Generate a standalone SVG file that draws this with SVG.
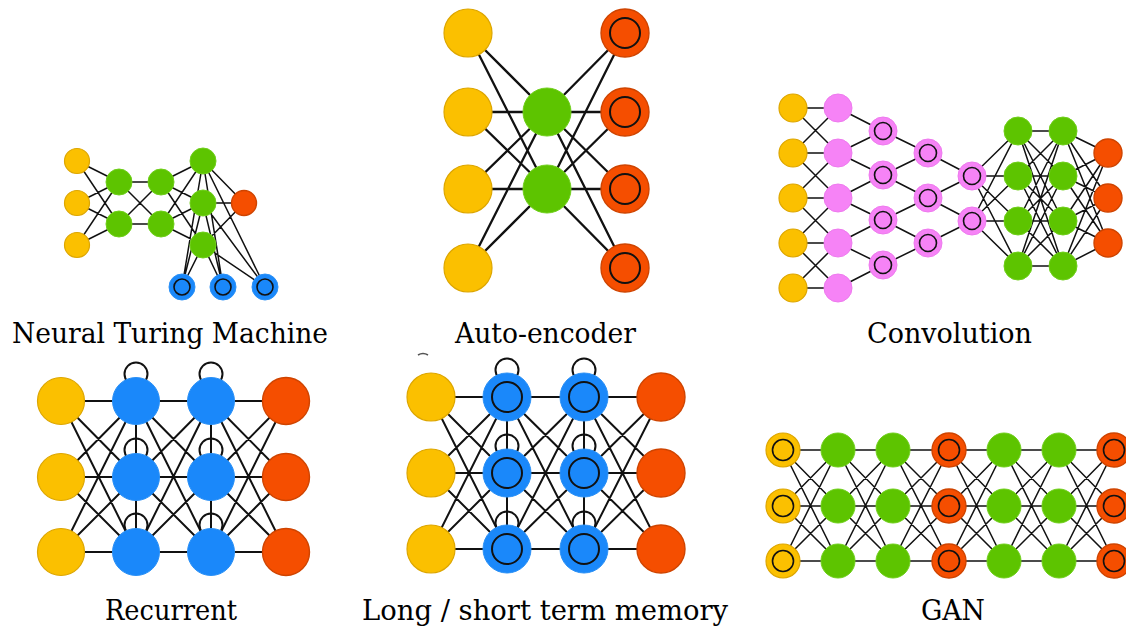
<svg xmlns="http://www.w3.org/2000/svg" width="1126" height="627" viewBox="0 0 1126 627">
<style>
.e{fill:none;stroke:#111;stroke-linecap:round}
.thin{stroke-width:1.5}
.mid{stroke-width:2}
.thick{stroke-width:2.3}
.y{fill:#FBC000;stroke:#DDA600;stroke-width:1.2}
.g{fill:#5DC400;stroke:#6FCF1A;stroke-width:1}
.o{fill:#F54E00;stroke:#CF4400;stroke-width:1.4}
.p{fill:#F683F6;stroke:#EE7AEE;stroke-width:1}
.b{fill:#1A88FA;stroke:#2A90F6;stroke-width:1}
.ring{fill:none;stroke:#111;stroke-width:1.6}
.ringT{fill:none;stroke:#111;stroke-width:2}
.loop{fill:none;stroke:#111;stroke-width:2}
text{font-family:"DejaVu Serif","Liberation Serif",serif;font-stretch:condensed;font-size:28px;fill:#000;text-anchor:middle}
</style>
<rect width="1126" height="627" fill="#fff"/>

<g id="connectors">
<!-- NTM -->
<path class="e thin" d="M77 161L119 182M77 161L119 224M77 203L119 182M77 203L119 224M77 245L119 182M77 245L119 224
M119 182L161 182M119 182L161 224M119 224L161 182M119 224L161 224
M161 182L203 161M161 182L203 203M161 182L203 245M161 224L203 161M161 224L203 203M161 224L203 245
M203 161L244 203M203 203L244 203M203 245L244 203
M203 161L182 287M203 161L223 287M203 161L265 287M203 203L182 287M203 203L223 287M203 203L265 287M203 245L182 287M203 245L223 287M203 245L265 287"/>
<!-- Auto-encoder -->
<path class="e thick" d="M468 33L547 112M468 33L547 189M468 112L547 112M468 112L547 189M468 189L547 112M468 189L547 189M468 268L547 112M468 268L547 189
M547 112L625 33M547 112L625 112M547 112L625 189M547 112L625 268M547 189L625 33M547 189L625 112M547 189L625 189M547 189L625 268"/>
<!-- Convolution -->
<path class="e thin" d="M793 108L838 108M793 108L838 153M793 153L838 108M793 153L838 153M793 153L838 198M793 198L838 153M793 198L838 198M793 198L838 243M793 243L838 198M793 243L838 243M793 243L838 288M793 288L838 243M793 288L838 288
M838 108L883 131M838 153L883 131M838 153L883 175M838 198L883 175M838 198L883 220M838 243L883 220M838 243L883 265M838 288L883 265
M883 131L928 153M883 175L928 153M883 175L928 198M883 220L928 198M883 220L928 243M883 265L928 243
M928 153L972 176M928 198L972 176M928 198L972 221M928 243L972 221
M972 176L1018 131M972 176L1018 176M972 176L1018 221M972 176L1018 266M972 221L1018 131M972 221L1018 176M972 221L1018 221M972 221L1018 266
M1018 131L1063 131M1018 131L1063 176M1018 131L1063 221M1018 131L1063 266M1018 176L1063 131M1018 176L1063 176M1018 176L1063 221M1018 176L1063 266M1018 221L1063 131M1018 221L1063 176M1018 221L1063 221M1018 221L1063 266M1018 266L1063 131M1018 266L1063 176M1018 266L1063 221M1018 266L1063 266
M1063 131L1108 153M1063 131L1108 198M1063 131L1108 243M1063 176L1108 153M1063 176L1108 198M1063 176L1108 243M1063 221L1108 153M1063 221L1108 198M1063 221L1108 243M1063 266L1108 153M1063 266L1108 198M1063 266L1108 243"/>
<!-- Recurrent -->
<path class="e mid" d="M61 401L136 401M61 401L136 477M61 401L136 552M61 477L136 401M61 477L136 477M61 477L136 552M61 552L136 401M61 552L136 477M61 552L136 552
M136 401L211 401M136 401L211 477M136 401L211 552M136 477L211 401M136 477L211 477M136 477L211 552M136 552L211 401M136 552L211 477M136 552L211 552
M211 401L286 401M211 401L286 477M211 401L286 552M211 477L286 401M211 477L286 477M211 477L286 552M211 552L286 401M211 552L286 477M211 552L286 552
M136 401L136 552M211 401L211 552"/>
<!-- LSTM -->
<path class="e mid" d="M431 397L507 397M431 397L507 473M431 397L507 549M431 473L507 397M431 473L507 473M431 473L507 549M431 549L507 397M431 549L507 473M431 549L507 549
M507 397L584 397M507 397L584 473M507 397L584 549M507 473L584 397M507 473L584 473M507 473L584 549M507 549L584 397M507 549L584 473M507 549L584 549
M584 397L661 397M584 397L661 473M584 397L661 549M584 473L661 397M584 473L661 473M584 473L661 549M584 549L661 397M584 549L661 473M584 549L661 549
M507 397L507 549M584 397L584 549"/>
<path d="M418 355Q423 352 428 355" fill="none" stroke="#555" stroke-width="1.6"/>
<!-- GAN -->
<path class="e thin" d="M783 450L838 450M783 450L838 506M783 450L838 561M783 506L838 450M783 506L838 506M783 506L838 561M783 561L838 450M783 561L838 506M783 561L838 561
M838 450L893 450M838 450L893 506M838 450L893 561M838 506L893 450M838 506L893 506M838 506L893 561M838 561L893 450M838 561L893 506M838 561L893 561
M893 450L949 450M893 450L949 506M893 450L949 561M893 506L949 450M893 506L949 506M893 506L949 561M893 561L949 450M893 561L949 506M893 561L949 561
M949 450L1004 450M949 450L1004 506M949 450L1004 561M949 506L1004 450M949 506L1004 506M949 506L1004 561M949 561L1004 450M949 561L1004 506M949 561L1004 561
M1004 450L1059 450M1004 450L1059 506M1004 450L1059 561M1004 506L1059 450M1004 506L1059 506M1004 506L1059 561M1004 561L1059 450M1004 561L1059 506M1004 561L1059 561
M1059 450L1114 450M1059 450L1114 506M1059 450L1114 561M1059 506L1114 450M1059 506L1114 506M1059 506L1114 561M1059 561L1114 450M1059 561L1114 506M1059 561L1114 561"/>
<!-- self loops -->
<circle class="loop" cx="136" cy="374" r="11.5"/>
<circle class="loop" cx="211" cy="374" r="11.5"/>
<circle class="loop" cx="136" cy="450" r="11.5"/>
<circle class="loop" cx="211" cy="450" r="11.5"/>
<circle class="loop" cx="136" cy="525" r="11.5"/>
<circle class="loop" cx="211" cy="525" r="11.5"/>
<circle class="loop" cx="507" cy="370" r="11.5"/>
<circle class="loop" cx="584" cy="370" r="11.5"/>
<circle class="loop" cx="507" cy="446" r="11.5"/>
<circle class="loop" cx="584" cy="446" r="11.5"/>
<circle class="loop" cx="507" cy="523" r="11.5"/>
<circle class="loop" cx="584" cy="523" r="11.5"/>
</g>

<!-- Neural Turing Machine nodes -->
<g id="ntm-in1"><circle class="y" cx="77" cy="161" r="12.5"/></g>
<g id="ntm-in2"><circle class="y" cx="77" cy="203" r="12.5"/></g>
<g id="ntm-in3"><circle class="y" cx="77" cy="245" r="12.5"/></g>
<g id="ntm-h1a"><circle class="g" cx="119" cy="182" r="13"/></g>
<g id="ntm-h1b"><circle class="g" cx="119" cy="224" r="13"/></g>
<g id="ntm-h2a"><circle class="g" cx="161" cy="182" r="13"/></g>
<g id="ntm-h2b"><circle class="g" cx="161" cy="224" r="13"/></g>
<g id="ntm-h3a"><circle class="g" cx="203" cy="161" r="13"/></g>
<g id="ntm-h3b"><circle class="g" cx="203" cy="203" r="13"/></g>
<g id="ntm-h3c"><circle class="g" cx="203" cy="245" r="13"/></g>
<g id="ntm-out"><circle class="o" cx="244" cy="203" r="12.5"/></g>
<g id="ntm-mem1"><circle class="b" cx="182" cy="287" r="13"/><circle class="ring" cx="182" cy="287" r="8"/></g>
<g id="ntm-mem2"><circle class="b" cx="223" cy="287" r="13"/><circle class="ring" cx="223" cy="287" r="8"/></g>
<g id="ntm-mem3"><circle class="b" cx="265" cy="287" r="13"/><circle class="ring" cx="265" cy="287" r="8"/></g>

<!-- Auto-encoder nodes -->
<g id="ae-in1"><circle class="y" cx="468" cy="33" r="24"/></g>
<g id="ae-in2"><circle class="y" cx="468" cy="112" r="24"/></g>
<g id="ae-in3"><circle class="y" cx="468" cy="189" r="24"/></g>
<g id="ae-in4"><circle class="y" cx="468" cy="268" r="24"/></g>
<g id="ae-h1"><circle class="g" cx="547" cy="112" r="24"/></g>
<g id="ae-h2"><circle class="g" cx="547" cy="189" r="24"/></g>
<g id="ae-out1"><circle class="o" cx="625" cy="33" r="24"/><circle class="ringT" cx="625" cy="33" r="15"/></g>
<g id="ae-out2"><circle class="o" cx="625" cy="112" r="24"/><circle class="ringT" cx="625" cy="112" r="15"/></g>
<g id="ae-out3"><circle class="o" cx="625" cy="189" r="24"/><circle class="ringT" cx="625" cy="189" r="15"/></g>
<g id="ae-out4"><circle class="o" cx="625" cy="268" r="24"/><circle class="ringT" cx="625" cy="268" r="15"/></g>

<!-- Convolution nodes -->
<g id="cv-in1"><circle class="y" cx="793" cy="108" r="14"/></g>
<g id="cv-in2"><circle class="y" cx="793" cy="153" r="14"/></g>
<g id="cv-in3"><circle class="y" cx="793" cy="198" r="14"/></g>
<g id="cv-in4"><circle class="y" cx="793" cy="243" r="14"/></g>
<g id="cv-in5"><circle class="y" cx="793" cy="288" r="14"/></g>
<g id="cv-k1"><circle class="p" cx="838" cy="108" r="14"/></g>
<g id="cv-k2"><circle class="p" cx="838" cy="153" r="14"/></g>
<g id="cv-k3"><circle class="p" cx="838" cy="198" r="14"/></g>
<g id="cv-k4"><circle class="p" cx="838" cy="243" r="14"/></g>
<g id="cv-k5"><circle class="p" cx="838" cy="288" r="14"/></g>
<g id="cv-c1a"><circle class="p" cx="883" cy="131" r="14"/><circle class="ring" cx="883" cy="131" r="8.5"/></g>
<g id="cv-c1b"><circle class="p" cx="883" cy="175" r="14"/><circle class="ring" cx="883" cy="175" r="8.5"/></g>
<g id="cv-c1c"><circle class="p" cx="883" cy="220" r="14"/><circle class="ring" cx="883" cy="220" r="8.5"/></g>
<g id="cv-c1d"><circle class="p" cx="883" cy="265" r="14"/><circle class="ring" cx="883" cy="265" r="8.5"/></g>
<g id="cv-c2a"><circle class="p" cx="928" cy="153" r="14"/><circle class="ring" cx="928" cy="153" r="8.5"/></g>
<g id="cv-c2b"><circle class="p" cx="928" cy="198" r="14"/><circle class="ring" cx="928" cy="198" r="8.5"/></g>
<g id="cv-c2c"><circle class="p" cx="928" cy="243" r="14"/><circle class="ring" cx="928" cy="243" r="8.5"/></g>
<g id="cv-c3a"><circle class="p" cx="972" cy="176" r="14"/><circle class="ring" cx="972" cy="176" r="8.5"/></g>
<g id="cv-c3b"><circle class="p" cx="972" cy="221" r="14"/><circle class="ring" cx="972" cy="221" r="8.5"/></g>
<g id="cv-h1a"><circle class="g" cx="1018" cy="131" r="14"/></g>
<g id="cv-h1b"><circle class="g" cx="1018" cy="176" r="14"/></g>
<g id="cv-h1c"><circle class="g" cx="1018" cy="221" r="14"/></g>
<g id="cv-h1d"><circle class="g" cx="1018" cy="266" r="14"/></g>
<g id="cv-h2a"><circle class="g" cx="1063" cy="131" r="14"/></g>
<g id="cv-h2b"><circle class="g" cx="1063" cy="176" r="14"/></g>
<g id="cv-h2c"><circle class="g" cx="1063" cy="221" r="14"/></g>
<g id="cv-h2d"><circle class="g" cx="1063" cy="266" r="14"/></g>
<g id="cv-out1"><circle class="o" cx="1108" cy="153" r="14"/></g>
<g id="cv-out2"><circle class="o" cx="1108" cy="198" r="14"/></g>
<g id="cv-out3"><circle class="o" cx="1108" cy="243" r="14"/></g>

<!-- Recurrent nodes -->
<g id="rn-in1"><circle class="y" cx="61" cy="401" r="23.5"/></g>
<g id="rn-in2"><circle class="y" cx="61" cy="477" r="23.5"/></g>
<g id="rn-in3"><circle class="y" cx="61" cy="552" r="23.5"/></g>
<g id="rn-r1a"><circle class="b" cx="136" cy="401" r="23.5"/></g>
<g id="rn-r1b"><circle class="b" cx="136" cy="477" r="23.5"/></g>
<g id="rn-r1c"><circle class="b" cx="136" cy="552" r="23.5"/></g>
<g id="rn-r2a"><circle class="b" cx="211" cy="401" r="23.5"/></g>
<g id="rn-r2b"><circle class="b" cx="211" cy="477" r="23.5"/></g>
<g id="rn-r2c"><circle class="b" cx="211" cy="552" r="23.5"/></g>
<g id="rn-out1"><circle class="o" cx="286" cy="401" r="23.5"/></g>
<g id="rn-out2"><circle class="o" cx="286" cy="477" r="23.5"/></g>
<g id="rn-out3"><circle class="o" cx="286" cy="552" r="23.5"/></g>

<!-- LSTM nodes -->
<g id="ls-in1"><circle class="y" cx="431" cy="397" r="24"/></g>
<g id="ls-in2"><circle class="y" cx="431" cy="473" r="24"/></g>
<g id="ls-in3"><circle class="y" cx="431" cy="549" r="24"/></g>
<g id="ls-m1a"><circle class="b" cx="507" cy="397" r="24"/><circle class="ringT" cx="507" cy="397" r="15"/></g>
<g id="ls-m1b"><circle class="b" cx="507" cy="473" r="24"/><circle class="ringT" cx="507" cy="473" r="15"/></g>
<g id="ls-m1c"><circle class="b" cx="507" cy="549" r="24"/><circle class="ringT" cx="507" cy="549" r="15"/></g>
<g id="ls-m2a"><circle class="b" cx="584" cy="397" r="24"/><circle class="ringT" cx="584" cy="397" r="15"/></g>
<g id="ls-m2b"><circle class="b" cx="584" cy="473" r="24"/><circle class="ringT" cx="584" cy="473" r="15"/></g>
<g id="ls-m2c"><circle class="b" cx="584" cy="549" r="24"/><circle class="ringT" cx="584" cy="549" r="15"/></g>
<g id="ls-out1"><circle class="o" cx="661" cy="397" r="24"/></g>
<g id="ls-out2"><circle class="o" cx="661" cy="473" r="24"/></g>
<g id="ls-out3"><circle class="o" cx="661" cy="549" r="24"/></g>

<!-- GAN nodes -->
<g id="gan-in1"><circle class="y" cx="783" cy="450" r="17"/><circle class="ring" cx="783" cy="450" r="10.5"/></g>
<g id="gan-in2"><circle class="y" cx="783" cy="506" r="17"/><circle class="ring" cx="783" cy="506" r="10.5"/></g>
<g id="gan-in3"><circle class="y" cx="783" cy="561" r="17"/><circle class="ring" cx="783" cy="561" r="10.5"/></g>
<g id="gan-h1a"><circle class="g" cx="838" cy="450" r="17"/></g>
<g id="gan-h1b"><circle class="g" cx="838" cy="506" r="17"/></g>
<g id="gan-h1c"><circle class="g" cx="838" cy="561" r="17"/></g>
<g id="gan-h2a"><circle class="g" cx="893" cy="450" r="17"/></g>
<g id="gan-h2b"><circle class="g" cx="893" cy="506" r="17"/></g>
<g id="gan-h2c"><circle class="g" cx="893" cy="561" r="17"/></g>
<g id="gan-m1"><circle class="o" cx="949" cy="450" r="17"/><circle class="ring" cx="949" cy="450" r="10.5"/></g>
<g id="gan-m2"><circle class="o" cx="949" cy="506" r="17"/><circle class="ring" cx="949" cy="506" r="10.5"/></g>
<g id="gan-m3"><circle class="o" cx="949" cy="561" r="17"/><circle class="ring" cx="949" cy="561" r="10.5"/></g>
<g id="gan-h3a"><circle class="g" cx="1004" cy="450" r="17"/></g>
<g id="gan-h3b"><circle class="g" cx="1004" cy="506" r="17"/></g>
<g id="gan-h3c"><circle class="g" cx="1004" cy="561" r="17"/></g>
<g id="gan-h4a"><circle class="g" cx="1059" cy="450" r="17"/></g>
<g id="gan-h4b"><circle class="g" cx="1059" cy="506" r="17"/></g>
<g id="gan-h4c"><circle class="g" cx="1059" cy="561" r="17"/></g>
<g id="gan-out1"><circle class="o" cx="1114" cy="450" r="17"/><circle class="ring" cx="1114" cy="450" r="10.5"/></g>
<g id="gan-out2"><circle class="o" cx="1114" cy="506" r="17"/><circle class="ring" cx="1114" cy="506" r="10.5"/></g>
<g id="gan-out3"><circle class="o" cx="1114" cy="561" r="17"/><circle class="ring" cx="1114" cy="561" r="10.5"/></g>

<g id="labels">
<text x="170" y="343" textLength="316" lengthAdjust="spacingAndGlyphs">Neural Turing Machine</text>
<text x="545.5" y="343" textLength="181" lengthAdjust="spacingAndGlyphs">Auto-encoder</text>
<text x="949.5" y="343" textLength="165" lengthAdjust="spacingAndGlyphs">Convolution</text>
<text x="171" y="620" textLength="132" lengthAdjust="spacingAndGlyphs">Recurrent</text>
<text x="545" y="620" textLength="366" lengthAdjust="spacingAndGlyphs">Long / short term memory</text>
<text x="953" y="620" textLength="64" lengthAdjust="spacingAndGlyphs">GAN</text>
</g>
</svg>
